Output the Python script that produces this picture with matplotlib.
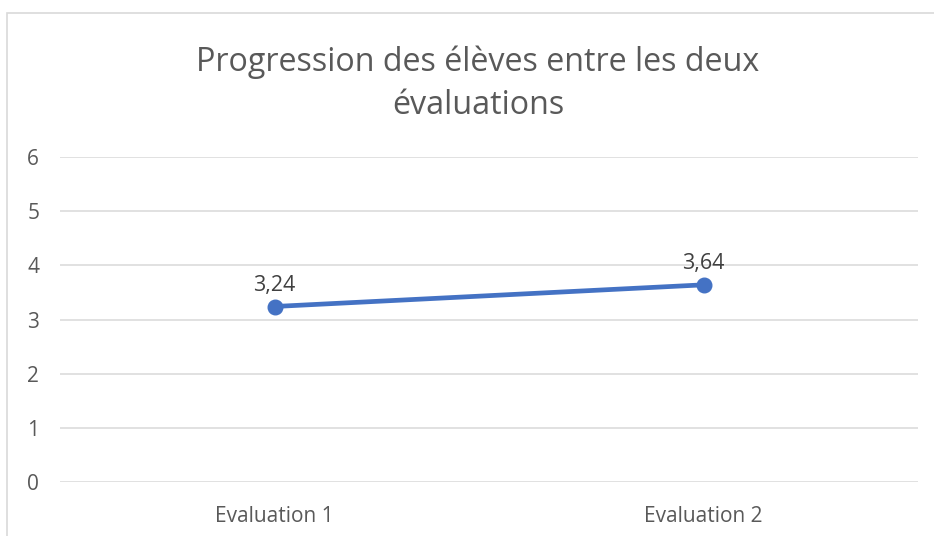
import matplotlib.pyplot as plt
from matplotlib.patches import Rectangle

# Data
categories = ["Evaluation 1", "Evaluation 2"]
moyennes = [3.24, 3.64]
y_ticks = [0, 1, 2, 3, 4, 5, 6]

plt.rcParams['font.family'] = ['Open Sans', 'DejaVu Sans']

fig = plt.figure(figsize=(9.34, 5.36), dpi=100)
ax = fig.add_axes([60/934, 1 - 482/536, (918 - 60)/934, (482 - 157)/536])

# chart frame like the excel export (cut off on right and bottom)
fig.patches.append(Rectangle((7/934, -0.1), 1.2, 1 - 13/536 + 0.1, transform=fig.transFigure,
                             fill=False, edgecolor='#D9D9D9', linewidth=1.2))

x = list(range(len(categories)))
ax.plot(x, moyennes, color='#4472C4', linewidth=3.4, marker='o', markersize=10.5, zorder=3)
for xi, v in zip(x, moyennes):
    ax.annotate(f"{v:.2f}".replace('.', ','), (xi, v), xytext=(0, 15), textcoords='offset points',
                ha='center', va='center', fontsize=15.5, color='#404040')

ax.set_xlim(-0.5, 1.5)
ax.set_ylim(0, 6)
ax.set_yticks(y_ticks)
ax.set_xticks(x)
ax.set_xticklabels(categories)
ax.grid(axis='y', color='#D9D9D9', linewidth=1.1)
ax.set_axisbelow(True)
for s in ax.spines.values():
    s.set_visible(False)
ax.tick_params(axis='both', length=0, colors='#595959', labelsize=15)
ax.tick_params(axis='y', pad=15)
ax.tick_params(axis='x', pad=17)

fig.text(478/934, 1 - 84/536, "Progression des élèves entre les deux\névaluations", ha='center', va='center',
         fontsize=23.2, color='#595959', linespacing=1.4)

fig.savefig("out.png", dpi=100)
